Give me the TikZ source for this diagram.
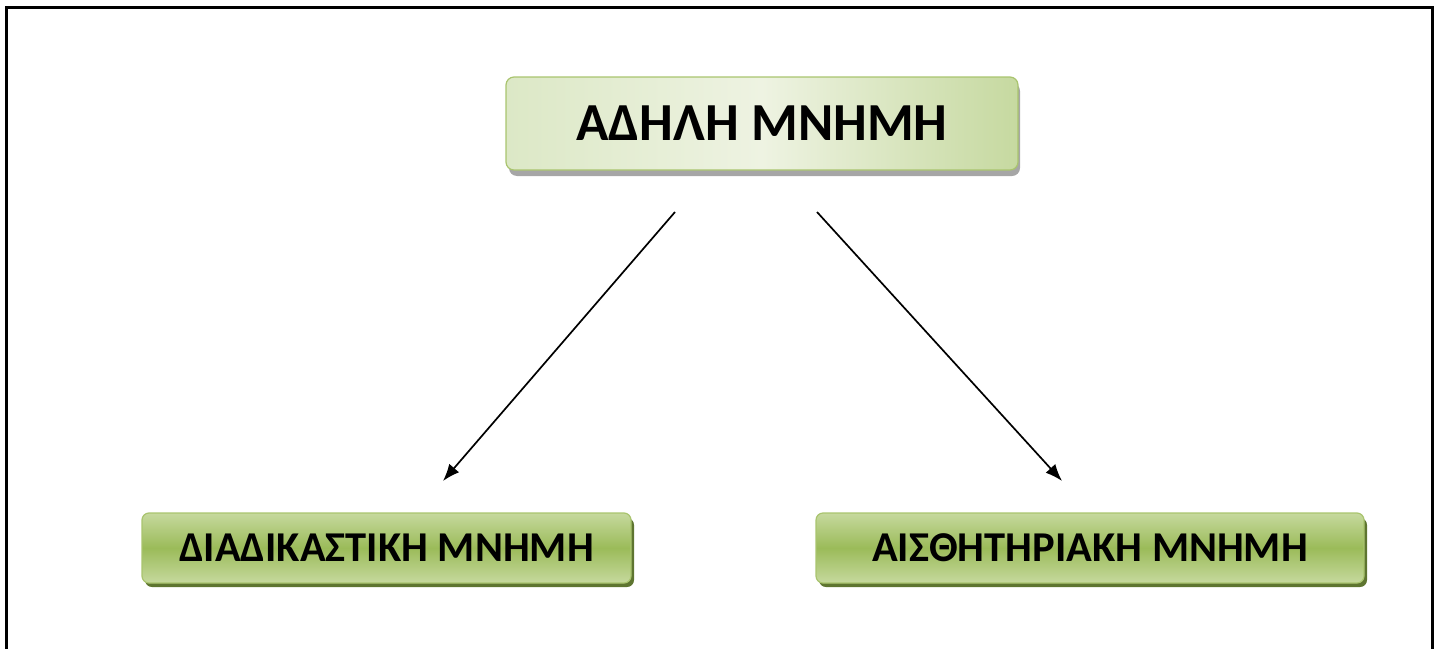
\documentclass[tikz,border=0pt]{standalone}
\usepackage{fontspec}
\setmainfont{Carlito}
\usetikzlibrary{arrows.meta}
\definecolor{olivemid}{HTML}{9BBB59}
\definecolor{olivelight}{HTML}{C6D99E}
\definecolor{olivedark}{HTML}{5E7530}
\definecolor{olivebord}{HTML}{A9C46E}
\definecolor{palegreen}{HTML}{EEF3E2}
\definecolor{softgreen}{HTML}{C6D9A0}
\definecolor{leftgreen}{HTML}{DCE8C6}
\tikzset{
  topbox/.style={rounded corners=8pt, draw=olivebord, line width=1.2pt,
    minimum width=512pt, minimum height=93pt, inner sep=0pt,
    font=\bfseries\fontsize{53.5}{60}\selectfont},
  subbox/.style={rounded corners=7pt, draw=olivebord, line width=1.2pt,
    minimum height=70pt, inner sep=0pt,
    top color=olivelight, bottom color=olivelight, middle color=olivemid,
    font=\bfseries\fontsize{42.5}{48}\selectfont},
  link/.style={line width=1.7pt, -{Latex[length=17pt,width=13pt]}},
  frameline/.style={line width=3pt, black}
}
\begin{document}
\begin{tikzpicture}[x=1pt,y=-1pt]
  \useasboundingbox (0,0) rectangle (1440,648);
  % outer frame, open at the bottom
  \draw[frameline] (6,660) -- (6,7) -- (1432,7) -- (1432,660);

  % shadows
  \fill[gray!70, rounded corners=8pt] (509,83) rectangle (1020,176);
  \fill[olivedark, rounded corners=7pt] (145,518) rectangle (634,587);
  \fill[olivedark, rounded corners=7pt] (819,518) rectangle (1367,587);

  % boxes
  \node[topbox, left color=leftgreen, right color=softgreen,
        middle color=palegreen] (top) at (762,123.5) {ΑΔΗΛΗ ΜΝΗΜΗ};
  \node[subbox, minimum width=489pt] (left) at (386.5,548) {ΔΙΑΔΙΚΑΣΤΙΚΗ ΜΝΗΜΗ};
  \node[subbox, minimum width=548pt] (right) at (1090,548) {ΑΙΣΘΗΤΗΡΙΑΚΗ ΜΝΗΜΗ};

  % connectors
  \coordinate (ls) at (675,212);
  \coordinate (le) at (443,481);
  \coordinate (rs) at (817,212);
  \coordinate (re) at (1062,481);
  \draw[link] (ls) -- (le);
  \draw[link] (rs) -- (re);
\end{tikzpicture}
\end{document}
